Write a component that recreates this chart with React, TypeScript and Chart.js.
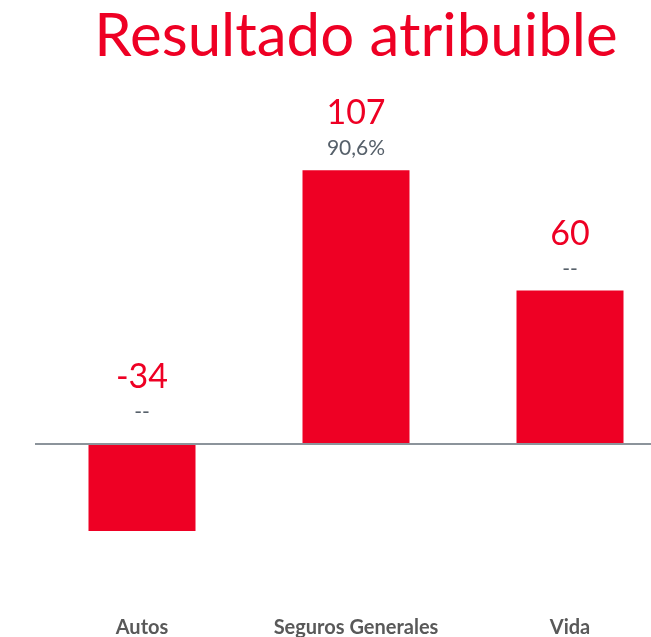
import React, { useEffect, useRef } from "react";
import { Chart, registerables } from "chart.js";

Chart.register(...registerables);

const categories = ["Autos", "Seguros Generales", "Vida"];
const values = [-34, 107, 60];
const changeLabels = ["--", "90,6%", "--"];
const titleText = "Resultado atribuible";

const RED = "#ee0024";
const GRAY_TEXT = "#56606a";
const AXIS_TEXT = "#595959";
const FONT = "Lato, 'Open Sans', sans-serif";

const labelPlugin = {
  id: "barLabels",
  afterDraw(chart: any) {
    const { ctx, chartArea, scales } = chart;
    const yZero = scales.y.getPixelForValue(0);
    ctx.save();
    ctx.strokeStyle = "#8c949b";
    ctx.lineWidth = 2;
    ctx.beginPath();
    ctx.moveTo(chartArea.left, yZero);
    ctx.lineTo(chartArea.right, yZero);
    ctx.stroke();

    const meta = chart.getDatasetMeta(0);
    meta.data.forEach((bar: any, i: number) => {
      const v = values[i];
      const anchor = v >= 0 ? bar.y : yZero;
      const pctBase = anchor - (v >= 0 ? 15 : 25);
      ctx.textAlign = "center";
      ctx.textBaseline = "alphabetic";
      ctx.fillStyle = GRAY_TEXT;
      ctx.font = `21px ${FONT}`;
      ctx.fillText(changeLabels[i], bar.x, pctBase);
      ctx.fillStyle = RED;
      ctx.font = `34px ${FONT}`;
      ctx.fillText(String(v), bar.x, pctBase - 31);
    });
    ctx.restore();
  },
};

export default function App() {
  const ref = useRef<HTMLCanvasElement | null>(null);
  useEffect(() => {
    document.body.style.margin = "0";
    const chart = new Chart(ref.current!, {
      type: "bar",
      data: {
        labels: categories,
        datasets: [
          {
            data: values,
            backgroundColor: RED,
            borderWidth: 0,
            categoryPercentage: 1,
            barPercentage: 0.5,
          },
        ],
      },
      options: {
        animation: false,
        responsive: false,
        layout: { padding: { left: 35, right: 3, top: 0, bottom: 0 } },
        plugins: {
          legend: { display: false },
          tooltip: { enabled: false },
          title: {
            display: true,
            text: titleText,
            color: RED,
            font: { family: FONT, size: 60, weight: "normal" },
            padding: { top: 1, bottom: 64 },
            align: "center",
          },
        },
        scales: {
          x: {
            grid: { display: false, drawTicks: false },
            border: { display: false },
            afterFit: (scale: any) => {
              scale.height = 39.5;
            },
            ticks: {
              color: AXIS_TEXT,
              font: { family: FONT, size: 20, weight: "bold" },
              padding: 18,
            },
          },
          y: {
            display: false,
            min: -60,
            max: 120,
          },
        },
      },
      plugins: [labelPlugin],
    });
    return () => chart.destroy();
  }, []);
  return (
    <div style={{ width: 651, height: 637, overflow: "hidden" }}>
      <canvas ref={ref} width={680} height={637} style={{ display: "block" }} />
    </div>
  );
}
